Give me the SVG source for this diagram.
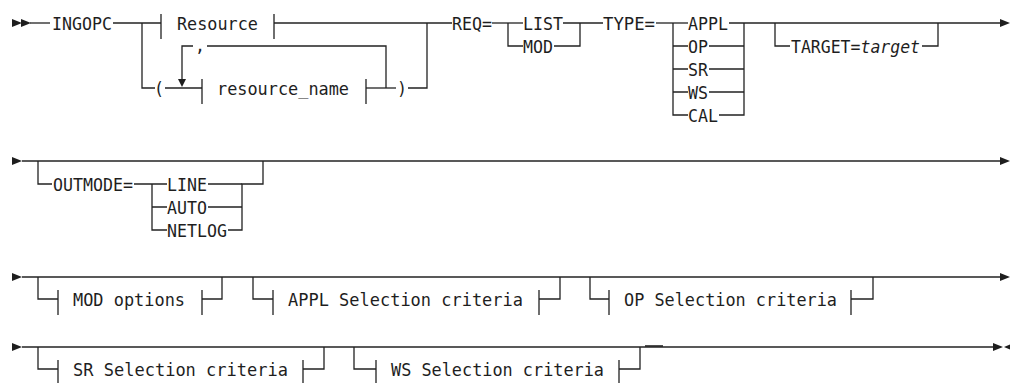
<svg xmlns="http://www.w3.org/2000/svg" width="1010" height="383" viewBox="0 0 1010 383">
<style>
.l{stroke:#222;stroke-width:1.3;fill:none}
.k{stroke:#222;stroke-width:1.3;fill:none}
.t{font-family:"DejaVu Sans Mono","Liberation Mono",monospace;font-size:18.5px;fill:#1e1e1e}
.i{font-style:italic}
.a{fill:#1e1e1e}
</style>
<rect width="1010" height="383" fill="#fff"/>
<defs>
<path id="ar" d="M0 -4 L10 0 L0 4 Z"/>
</defs>

<g id="connectors">
<!-- row 1 -->
<path class="l" d="M30 23 H50"/>
<path class="l" d="M113 23 H161"/>
<path class="l" d="M274 23 H452"/>
<path class="l" d="M142 23 V88 H155"/>
<path class="l" d="M165 88 H202"/>
<path class="l" d="M366 88 H396"/>
<path class="l" d="M408 88 H427 V23"/>
<path class="l" d="M182 80 V46 H193"/>
<path class="a" d="M178 79 L186 79 L182 87 Z"/>
<path class="l" d="M207 46 H386 V88"/>
<path class="l" d="M492 23 H523"/>
<path class="l" d="M508 23 V46 H523"/>
<path class="l" d="M563 23 H603"/>
<path class="l" d="M554 46 H580 V23"/>
<path class="l" d="M656 23 H688"/>
<path class="l" d="M673 23 V115 H688"/>
<path class="l" d="M673 46 H688 M673 69 H688 M673 92 H688"/>
<path class="l" d="M729 23 H1000"/>
<path class="l" d="M709 46 H744 M709 69 H744 M709 92 H744"/>
<path class="l" d="M719 115 H744 V23"/>
<path class="l" d="M775 23 V46 H790"/>
<path class="l" d="M922 46 H938 V23"/>
<use href="#ar" class="a" x="1000" y="23"/>
<!-- row 2 -->
<path class="l" d="M22 161 H1000"/>
<path class="l" d="M38 161 V184 H52"/>
<path class="l" d="M134 184 H167"/>
<path class="l" d="M152 184 V230 H167 M152 207 H167"/>
<path class="l" d="M208 184 H242 M208 207 H242"/>
<path class="l" d="M228 230 H242 V184 H263 V161"/>
<use href="#ar" class="a" x="1000" y="161"/>
<!-- row 3 -->
<path class="l" d="M22 277 H1000"/>
<path class="l" d="M38 277 V299 H58"/>
<path class="l" d="M202 299 H222 V277"/>
<path class="l" d="M253 277 V299 H273"/>
<path class="l" d="M539 299 H560 V277"/>
<path class="l" d="M590 277 V299 H609"/>
<path class="l" d="M851 299 H873 V277"/>
<use href="#ar" class="a" x="1000" y="277"/>
<!-- row 4 -->
<path class="l" d="M22 347 H993"/>
<path class="l" d="M38 347 V369 H58"/>
<path class="l" d="M303 369 H324 V347"/>
<path class="l" d="M354 347 V369 H376"/>
<path class="l" d="M619 369 H640 V347"/>
<path class="l" d="M645 346 H663" style="stroke-width:1.6"/>
<use href="#ar" class="a" x="993" y="347"/>
<path class="a" d="M1004 347 L1014 343 L1014 351 Z"/>
</g>

<g id="start1"><use href="#ar" class="a" x="12" y="23"/><use href="#ar" class="a" x="21" y="23"/></g>
<g id="start2"><use href="#ar" class="a" x="12" y="161"/></g>
<g id="start3"><use href="#ar" class="a" x="12" y="277"/></g>
<g id="start4"><use href="#ar" class="a" x="12" y="347"/></g>

<g id="ingopc"><text class="t" x="52" y="30" textLength="60" lengthAdjust="spacingAndGlyphs">INGOPC</text></g>
<g id="resource"><path class="k" d="M161 14 V39 M274 14 V39"/><text class="t" x="177" y="30" textLength="81" lengthAdjust="spacingAndGlyphs">Resource</text></g>
<g id="lparen"><text class="t" x="154" y="95" textLength="10" lengthAdjust="spacingAndGlyphs">(</text></g>
<g id="comma"><text class="t" x="195" y="52" textLength="10" lengthAdjust="spacingAndGlyphs">,</text></g>
<g id="resource_name"><path class="k" d="M202 79 V104 M366 79 V104"/><text class="t" x="217" y="95" textLength="132" lengthAdjust="spacingAndGlyphs">resource_name</text></g>
<g id="rparen"><text class="t" x="397" y="95" textLength="10" lengthAdjust="spacingAndGlyphs">)</text></g>
<g id="req"><text class="t" x="452" y="30" textLength="40" lengthAdjust="spacingAndGlyphs">REQ=</text></g>
<g id="list"><text class="t" x="523" y="30" textLength="40" lengthAdjust="spacingAndGlyphs">LIST</text></g>
<g id="mod"><text class="t" x="523" y="53" textLength="30" lengthAdjust="spacingAndGlyphs">MOD</text></g>
<g id="type"><text class="t" x="603" y="30" textLength="52" lengthAdjust="spacingAndGlyphs">TYPE=</text></g>
<g id="appl"><text class="t" x="688" y="30" textLength="40" lengthAdjust="spacingAndGlyphs">APPL</text></g>
<g id="op"><text class="t" x="688" y="53" textLength="20" lengthAdjust="spacingAndGlyphs">OP</text></g>
<g id="sr"><text class="t" x="688" y="76" textLength="20" lengthAdjust="spacingAndGlyphs">SR</text></g>
<g id="ws"><text class="t" x="688" y="99" textLength="20" lengthAdjust="spacingAndGlyphs">WS</text></g>
<g id="cal"><text class="t" x="688" y="122" textLength="30" lengthAdjust="spacingAndGlyphs">CAL</text></g>
<g id="target"><text class="t" x="791" y="53" textLength="129" lengthAdjust="spacingAndGlyphs">TARGET=<tspan class="i">target</tspan></text></g>

<g id="outmode"><text class="t" x="53" y="191" textLength="80" lengthAdjust="spacingAndGlyphs">OUTMODE=</text></g>
<g id="line"><text class="t" x="167" y="191" textLength="40" lengthAdjust="spacingAndGlyphs">LINE</text></g>
<g id="auto"><text class="t" x="167" y="214" textLength="40" lengthAdjust="spacingAndGlyphs">AUTO</text></g>
<g id="netlog"><text class="t" x="167" y="237" textLength="60" lengthAdjust="spacingAndGlyphs">NETLOG</text></g>

<g id="mod_options"><path class="k" d="M58 290 V315 M202 290 V315"/><text class="t" x="73" y="306" textLength="112" lengthAdjust="spacingAndGlyphs">MOD options</text></g>
<g id="appl_sel"><path class="k" d="M273 290 V315 M539 290 V315"/><text class="t" x="288" y="306" textLength="235" lengthAdjust="spacingAndGlyphs">APPL Selection criteria</text></g>
<g id="op_sel"><path class="k" d="M609 290 V315 M851 290 V315"/><text class="t" x="624" y="306" textLength="213" lengthAdjust="spacingAndGlyphs">OP Selection criteria</text></g>
<g id="sr_sel"><path class="k" d="M58 360 V385 M303 360 V385"/><text class="t" x="73" y="376" textLength="215" lengthAdjust="spacingAndGlyphs">SR Selection criteria</text></g>
<g id="ws_sel"><path class="k" d="M376 360 V385 M619 360 V385"/><text class="t" x="391" y="376" textLength="213" lengthAdjust="spacingAndGlyphs">WS Selection criteria</text></g>
</svg>
